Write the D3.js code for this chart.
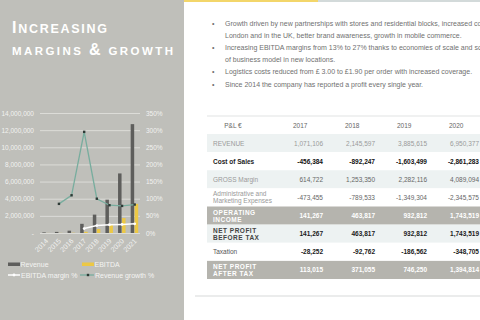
<!DOCTYPE html>
<html>
<head>
<meta charset="utf-8">
<script src="https://cdn.jsdelivr.net/npm/d3@7"></script>
<style>
  body { margin: 0; background: #fff; }
  svg { display: block; font-family: "Liberation Sans", Arial, sans-serif; }
</style>
</head>
<body>
<div id="slide"></div>
<script>
// chart data
const years = ["2014", "2015", "2016", "2017", "2018", "2019", "2020", "2021"];
const revenue = [70000, 130000, 271000, 1071106, 2145597, 3885615, 6950377, 12700000];
const ebitda = [5000, 10000, 25000, 141267, 463817, 932812, 1743519, 3400000];
const ebitdaMargin = [null, null, null, 0.13, 0.216, 0.24, 0.251, 0.268];
const revenueGrowth = [null, 0.85, 1.10, 2.95, 1.00, 0.81, 0.79, 0.83];
const leftTicks = [0, 2000000, 4000000, 6000000, 8000000, 10000000, 12000000, 14000000];
const rightTicks = [0, 0.5, 1, 1.5, 2, 2.5, 3, 3.5];

// table data
const tableYears = ["2017", "2018", "2019", "2020"];
const tRevenue = [1071106, 2145597, 3885615, 6950377];
const tCost = [-456384, -892247, -1603499, -2861283];
const tGross = [614722, 1253350, 2282116, 4089094];
const tAdmin = [-473455, -789533, -1349304, -2345575];
const tOperating = [141267, 463817, 932812, 1743519];
const tBeforeTax = [141267, 463817, 932812, 1743519];
const tTax = [-28252, -92762, -186562, -348705];
const tAfterTax = [113015, 371055, 746250, 1394814];

const bullets = [
  ["Growth driven by new partnerships with stores and residential blocks, increased coverage in",
   "London and in the UK, better brand awareness, growth in mobile commerce."],
  ["Increasing  EBITDA margins from 13% to 27% thanks to economies of scale and scalability",
   "of business model in new locations."],
  ["Logistics costs reduced from £ 3.00 to £1.90 per order with increased coverage."],
  ["Since 2014 the company has reported a profit every  single year."]
];

const W = 480, H = 320;
const svg = d3.select("#slide").append("svg").attr("width", W).attr("height", H);

// left panel + top strip
svg.append("rect").attr("x", 0).attr("y", 0).attr("width", 184).attr("height", H).attr("fill", "#bfbfba");
svg.append("rect").attr("x", 184).attr("y", 0).attr("width", W - 184).attr("height", 2).attr("fill", "#d3dada");
svg.append("rect").attr("x", 184).attr("y", 0).attr("width", 134).attr("height", 2).attr("fill", "#f3d66a");

// title
const t1 = svg.append("text").attr("x", 12).attr("y", 33).attr("fill", "#fff").attr("font-weight", "bold")
  .attr("textLength", 95).attr("lengthAdjust", "spacing");
t1.append("tspan").attr("font-size", 16).text("I");
t1.append("tspan").attr("font-size", 12.5).text("NCREASING");
const t2 = svg.append("text").attr("x", 12).attr("y", 55).attr("fill", "#fff").attr("font-weight", "bold")
  .attr("textLength", 161).attr("lengthAdjust", "spacing");
t2.append("tspan").attr("font-size", 11.5).text("MARGINS ");
t2.append("tspan").attr("font-size", 16).text("&");
t2.append("tspan").attr("font-size", 11.5).text(" GROWTH");

// chart scales
const x = d3.scaleBand().domain(years).range([40, 141]);
const sub = d3.scaleBand().domain(["rev", "ebitda"]).range([2.3, 10.3]);
const y = d3.scaleLinear().domain([0, 14000000]).range([233, 113]);
const y2 = d3.scaleLinear().domain([0, 3.5]).range([233, 113]);

// gridlines
svg.append("g").selectAll("line").data(leftTicks).enter().append("line")
  .attr("x1", 40).attr("x2", 140)
  .attr("y1", d => y(d) + 0.5).attr("y2", d => y(d) + 0.5)
  .attr("stroke", "#dcdcd8").attr("stroke-width", 1);

// axes
const gl = svg.append("g").attr("transform", "translate(34,0)")
  .call(d3.axisLeft(y).tickValues(leftTicks).tickSize(0).tickPadding(0)
    .tickFormat(d => d === 0 ? "-" : d3.format(",")(d)));
const gr = svg.append("g").attr("transform", "translate(146,0)")
  .call(d3.axisRight(y2).tickValues(rightTicks).tickSize(0).tickPadding(0).tickFormat(d3.format(".0%")));
[gl, gr].forEach(g => {
  g.select(".domain").remove();
  g.selectAll("text").attr("fill", "#f2f2f0").attr("font-size", 6.5).attr("font-family", "Liberation Sans, Arial");
});

const gx = svg.append("g").attr("transform", "translate(0,236)")
  .call(d3.axisBottom(x).tickSize(0).tickPadding(0));
gx.select(".domain").remove();
gx.selectAll("text")
  .attr("fill", "#f2f2f0").attr("font-size", 7).attr("font-family", "Liberation Sans, Arial")
  .attr("text-anchor", "end").attr("dy", "0.3em")
  .attr("transform", "translate(1,4) rotate(-45)");

// bars
svg.append("g").selectAll("rect").data(years).enter().append("rect")
  .attr("x", d => x(d) + sub("rev"))
  .attr("width", sub.bandwidth() - 0.5)
  .attr("y", (d, i) => y(revenue[i]))
  .attr("height", (d, i) => y(0) - y(revenue[i]))
  .attr("fill", "#5e5e5c");
svg.append("g").selectAll("rect").data(years).enter().append("rect")
  .attr("x", d => x(d) + sub("ebitda"))
  .attr("width", sub.bandwidth() - 0.5)
  .attr("y", (d, i) => y(ebitda[i]))
  .attr("height", (d, i) => y(0) - y(ebitda[i]))
  .attr("fill", "#ecc845");

const cx = d => x(d) + x.bandwidth() / 2;

// revenue growth line
const growthPts = years.map((d, i) => [d, revenueGrowth[i]]).filter(d => d[1] !== null);
svg.append("path")
  .attr("d", d3.line().x(d => cx(d[0])).y(d => y2(d[1]))(growthPts))
  .attr("fill", "none").attr("stroke", "#78ad9e").attr("stroke-width", 1.3);
svg.append("g").selectAll("rect").data(growthPts).enter().append("rect")
  .attr("x", d => cx(d[0]) - 1.2).attr("y", d => y2(d[1]) - 1.2)
  .attr("width", 2.4).attr("height", 2.4).attr("fill", "#2e3a36");

// EBITDA margin line
const marginPts = years.map((d, i) => [d, ebitdaMargin[i]]).filter(d => d[1] !== null);
svg.append("path")
  .attr("d", d3.line().x(d => cx(d[0])).y(d => y2(d[1]))(marginPts))
  .attr("fill", "none").attr("stroke", "#ffffff").attr("stroke-width", 1.5);
svg.append("g").selectAll("circle").data(marginPts).enter().append("circle")
  .attr("cx", d => cx(d[0])).attr("cy", d => y2(d[1])).attr("r", 1.4).attr("fill", "#fff");

// legend
const lg = svg.append("g").attr("font-size", 7).attr("fill", "#f4f4f2");
lg.append("rect").attr("x", 8).attr("y", 262.5).attr("width", 12).attr("height", 3.5).attr("fill", "#5e5e5c");
lg.append("text").attr("x", 20.5).attr("y", 266.5).text("Revenue");
lg.append("rect").attr("x", 82).attr("y", 262.5).attr("width", 12).attr("height", 3.5).attr("fill", "#ecc845");
lg.append("text").attr("x", 94.5).attr("y", 266.5).text("EBITDA");
lg.append("line").attr("x1", 8).attr("x2", 20).attr("y1", 275).attr("y2", 275).attr("stroke", "#fff").attr("stroke-width", 1.5);
lg.append("circle").attr("cx", 14).attr("cy", 275).attr("r", 1.4).attr("fill", "#fff");
lg.append("text").attr("x", 21).attr("y", 277.5).text("EBITDA margin %");
lg.append("line").attr("x1", 80).attr("x2", 94).attr("y1", 275).attr("y2", 275).attr("stroke", "#78ad9e").attr("stroke-width", 1.3);
lg.append("rect").attr("x", 86.8).attr("y", 273.8).attr("width", 2.4).attr("height", 2.4).attr("fill", "#2e3a36");
lg.append("text").attr("x", 95).attr("y", 277.5).text("Revenue growth %");

// bullets
const bl = svg.append("g").attr("font-size", 7).attr("fill", "#707070");
let ly = 25.5;
bullets.forEach(b => {
  bl.append("text").attr("x", 212).attr("y", ly).text("•");
  b.forEach(line => {
    bl.append("text").attr("x", 225).attr("y", ly).text(line);
    ly += 12.2;
  });
});

// P&L table
const rows = [
  { label: ["REVENUE"], values: tRevenue, bg: "#edf2f2", lc: "#9a9a9a", vc: "#9a9a9a", bold: false, vbold: false },
  { label: ["Cost of Sales"], values: tCost, bg: "#ffffff", lc: "#222", vc: "#111", bold: true, vbold: true },
  { label: ["GROSS Margin"], values: tGross, bg: "#edf2f2", lc: "#9a9a9a", vc: "#666", bold: false, vbold: false },
  { label: ["Administrative and", "Marketing Expenses"], values: tAdmin, bg: "#ffffff", lc: "#999", vc: "#666", bold: false, vbold: false },
  { label: ["OPERATING", "INCOME"], values: tOperating, bg: "#b5b4ae", lc: "#fff", vc: "#fff", bold: true, vbold: true },
  { label: ["NET PROFIT", "BEFORE TAX"], values: tBeforeTax, bg: "#edf2f2", lc: "#444", vc: "#1a1a1a", bold: true, vbold: true },
  { label: ["Taxation"], values: tTax, bg: "#ffffff", lc: "#555", vc: "#1a1a1a", bold: false, vbold: true },
  { label: ["NET PROFIT", "AFTER TAX"], values: tAfterTax, bg: "#b5b4ae", lc: "#fff", vc: "#fff", bold: true, vbold: true }
];
const rowY = d3.scaleBand().domain(d3.range(rows.length)).range([134, 279]);
const col = d3.scaleBand().domain(tableYears).range([271, 479]);
const fmt = v => d3.format(",")(v).replace("\u2212", "-");

const tb = svg.append("g").attr("font-size", 6.5);
tb.append("line").attr("x1", 207).attr("x2", W).attr("y1", 116).attr("y2", 116).attr("stroke", "#e2e4e4").attr("stroke-width", 1.2);
tb.append("text").attr("x", 233).attr("y", 127.5).attr("text-anchor", "middle").attr("fill", "#666").text("P&L  €");
tableYears.forEach(yr => {
  tb.append("text").attr("x", col(yr) + 22).attr("y", 127.5).attr("fill", "#666").text(yr);
});

rows.forEach((r, i) => {
  const top = rowY(i), h = rowY.bandwidth();
  tb.append("rect").attr("x", 207).attr("y", top).attr("width", W - 207).attr("height", h).attr("fill", r.bg);
  const upper = r.label[0] === r.label[0].toUpperCase() && r.bold;
  r.label.forEach((l, k) => {
    const ty = r.label.length === 1 ? top + h / 2 + 2.5 : top + h / 2 - 1 + k * 7;
    tb.append("text").attr("x", 213).attr("y", ty)
      .attr("fill", r.lc).attr("font-weight", r.bold ? "bold" : "normal")
      .attr("letter-spacing", upper ? 0.5 : 0)
      .text(l);
  });
  r.values.forEach((v, j) => {
    tb.append("text").attr("x", col(tableYears[j]) + col.bandwidth()).attr("y", top + h / 2 + 2.5)
      .attr("text-anchor", "end").attr("fill", r.vc)
      .attr("font-weight", r.vbold ? "bold" : "normal")
      .text(fmt(v));
  });
});

svg.append("line").attr("x1", 195).attr("x2", W).attr("y1", 296).attr("y2", 296).attr("stroke", "#e4e6e6").attr("stroke-width", 1.5);
</script>
</body>
</html>
